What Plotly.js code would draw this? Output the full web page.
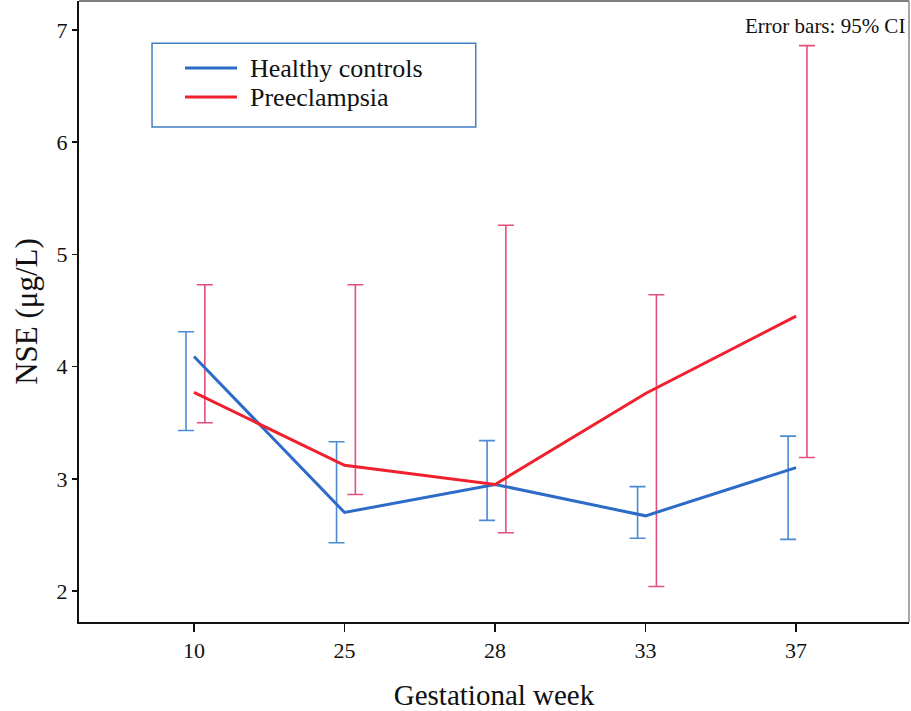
<!DOCTYPE html>
<html>
<head>
<meta charset="utf-8">
<script src="https://cdn.plot.ly/plotly-3.0.1.min.js"></script>
<style>html,body{margin:0;padding:0;background:#fff;}#chart{width:911px;height:711px;}</style>
</head>
<body>
<div id="chart"></div>
<script>
// Data
const weeks = ["10", "25", "28", "33", "37"];
const seriesNames = ["Healthy controls", "Preeclampsia"];
const healthyMean = [4.09, 2.70, 2.95, 2.67, 3.10];
const healthyLow  = [3.43, 2.43, 2.63, 2.47, 2.46];
const healthyHigh = [4.31, 3.33, 3.34, 2.93, 3.38];
const preMean = [3.77, 3.12, 2.95, 3.76, 4.45];
const preLow  = [3.50, 2.86, 2.52, 2.04, 3.19];
const preHigh = [4.73, 4.73, 5.26, 4.64, 6.86];
const yTicks = [2, 3, 4, 5, 6, 7];

const idx = weeks.map((_, i) => i);
const serif = "'Liberation Serif', 'Times New Roman', serif";
const blueLine = "#2c6cc8", blueErr = "#4d8ad6";
const redLine = "#f0202f", redErr = "#e2507a";
const lineColors = [blueLine, redLine];
const offBlue = -0.053, offRed = 0.072;

function errTrace(mean, lo, hi, off, color) {
  return {
    x: idx.map(i => i + off), y: mean, type: "scatter", mode: "markers",
    marker: {size: 1, opacity: 0}, showlegend: false, hoverinfo: "skip",
    error_y: {type: "data", symmetric: false,
      array: hi.map((h, i) => h - mean[i]),
      arrayminus: lo.map((l, i) => mean[i] - l),
      color: color, thickness: 1.6, width: 8}
  };
}

const traces = [
  errTrace(healthyMean, healthyLow, healthyHigh, offBlue, blueErr),
  errTrace(preMean, preLow, preHigh, offRed, redErr),
  {x: idx, y: healthyMean, type: "scatter", mode: "lines", name: seriesNames[0],
   line: {color: blueLine, width: 3}, showlegend: false},
  {x: idx, y: preMean, type: "scatter", mode: "lines", name: seriesNames[1],
   line: {color: redLine, width: 3}, showlegend: false}
];

// Custom legend (box, sample lines, labels)
const legendRows = [0.892, 0.8454];
const shapes = [
  {type: "line", xref: "paper", yref: "paper", x0: 0, x1: 1, y0: 1, y1: 1,
   line: {color: "#555", width: 1.5}},
  {type: "line", xref: "paper", yref: "paper", x0: 1, x1: 1, y0: 0, y1: 1,
   line: {color: "#888", width: 1.5}},
  {type: "rect", xref: "paper", yref: "paper", x0: 0.088, x1: 0.478, y0: 0.797, y1: 0.932,
   line: {color: "#3f7fc2", width: 1.5}, fillcolor: "rgba(0,0,0,0)"}
];
const annotations = [
  {text: "Error bars: 95% CI", xref: "paper", yref: "paper", x: 0.997, y: 0.96,
   xanchor: "right", yanchor: "middle", showarrow: false,
   font: {family: serif, size: 21, color: "#111"}}
];
seriesNames.forEach((name, k) => {
  shapes.push({type: "line", xref: "paper", yref: "paper", x0: 0.1277, x1: 0.1904,
    y0: legendRows[k], y1: legendRows[k], line: {color: lineColors[k], width: 3}});
  annotations.push({text: name, xref: "paper", yref: "paper", x: 0.2036, y: legendRows[k],
    xanchor: "left", yanchor: "middle", showarrow: false,
    font: {family: serif, size: 26, color: "#111"}});
});

const layout = {
  width: 911, height: 711,
  margin: {l: 79, r: 2, t: 1, b: 89},
  paper_bgcolor: "#ffffff", plot_bgcolor: "#ffffff",
  font: {family: serif, color: "#111"},
  showlegend: false,
  xaxis: {
    range: [-0.764, 4.75], tickmode: "array", tickvals: idx, ticktext: weeks,
    showgrid: false, zeroline: false, showline: true, linecolor: "#111", linewidth: 2,
    ticks: "outside", ticklen: 8, tickwidth: 1.5, tickcolor: "#111",
    tickfont: {family: serif, size: 22, color: "#111"},
    title: {text: "Gestational week", font: {family: serif, size: 29, color: "#111"}, standoff: 24}
  },
  yaxis: {
    range: [1.724, 7.258], tickmode: "array", tickvals: yTicks,
    showgrid: false, zeroline: false, showline: true, linecolor: "#111", linewidth: 2,
    ticks: "outside", ticklen: 5, tickwidth: 1.5, tickcolor: "#111",
    tickfont: {family: serif, size: 22, color: "#111"},
    title: {text: "NSE (μg/L)", font: {family: serif, size: 31, color: "#111"}, standoff: 10}
  },
  shapes: shapes,
  annotations: annotations
};

Plotly.newPlot("chart", traces, layout, {staticPlot: true, displayModeBar: false});
</script>
</body>
</html>
